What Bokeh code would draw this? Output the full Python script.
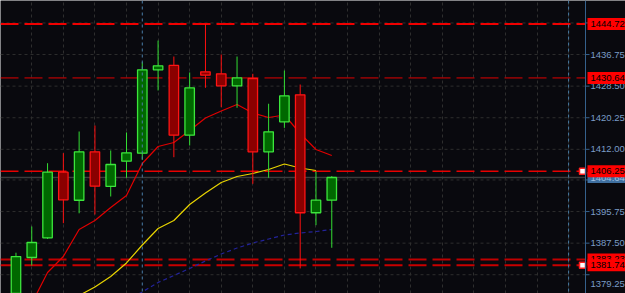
from bokeh.plotting import figure
from bokeh.models import Range1d, Span, FixedTicker, ColumnDataSource
from bokeh.core.properties import value
from bokeh.embed import file_html
from bokeh.resources import INLINE

# ---------------- data ----------------
opens  = [1371.50, 1383.75, 1388.90, 1406.03, 1398.70, 1411.35, 1402.30, 1408.90, 1410.99, 1432.76,
          1433.90, 1415.69, 1432.24, 1431.72, 1428.58, 1430.49, 1411.35, 1419.18, 1426.23, 1395.43, 1398.72]
highs  = [1385.00, 1391.85, 1408.37, 1411.00, 1416.65, 1418.22, 1411.70, 1416.40, 1434.75, 1440.40,
          1436.23, 1432.06, 1444.72, 1436.76, 1436.23, 1431.72, 1423.90, 1432.58, 1428.92, 1406.25, 1405.00]
lows   = [1369.00, 1381.66, 1388.60, 1392.70, 1395.30, 1394.98, 1399.68, 1404.56, 1409.27, 1427.36,
          1409.94, 1413.00, 1428.06, 1423.00, 1422.84, 1403.00, 1404.56, 1417.60, 1380.90, 1392.19, 1386.29]
closes = [1384.00, 1387.67, 1406.03, 1398.82, 1411.35, 1402.37, 1408.04, 1411.09, 1432.76, 1433.80,
          1415.69, 1428.06, 1431.35, 1428.58, 1430.67, 1411.35, 1416.57, 1425.97, 1395.43, 1398.72, 1404.64]
bars = list(range(len(opens)))

red_ma_x = list(range(1, 21))
red_ma = [1371.74, 1379.84, 1384.02, 1391.06, 1393.41, 1396.81, 1399.94, 1408.30, 1412.74, 1413.78,
          1416.91, 1420.18, 1422.00, 1423.70, 1421.48, 1420.31, 1420.96, 1416.13, 1411.95, 1410.39]

yellow_ma_x = list(range(3, 20))
yellow_ma = [1371.70, 1373.83, 1376.05, 1378.79, 1382.32, 1387.02, 1391.33, 1393.41, 1397.59, 1400.59,
             1403.34, 1404.90, 1405.69, 1406.73, 1408.17, 1407.12, 1406.47]

blue_ma_x = list(range(7, 21))
blue_ma = [1372.53, 1374.75, 1377.23, 1379.05, 1380.88, 1382.84, 1384.67, 1386.23, 1387.54, 1388.58,
           1389.63, 1390.15, 1390.54, 1391.06]

level_values = [1444.72, 1430.64, 1406.25, 1383.23, 1381.74]
level_labels = ["1444.72", "1430.64", "1406.25", "1383.23", "1381.74"]
marked_levels = [1406.25, 1381.74]

grid_levels = [1379.25, 1387.50, 1395.75, 1404.00, 1412.00, 1420.25, 1428.50, 1436.75, 1445.00]
tick_label_values = [1379.25, 1387.50, 1395.75, 1412.00, 1420.25, 1428.50, 1436.75]
tick_label_texts = ["1379.25", "1387.50", "1395.75", "1412.00", "1420.25", "1428.50", "1436.75"]

separator_bars = [8, 35]
current_price = closes[-1]

# ---------------- styles / geometry ----------------
BG = "#09090e"
GRID = "#2e2e2e"
AXIS = "#35618c"
TICK_TXT = "#7a9cc6"
PX_PER_BAR = 15.79
X0 = -0.98
AXIS_X = X0 + 585 / PX_PER_BAR
X1 = X0 + 625 / PX_PER_BAR
Y0, Y1 = 1374.35, 1450.86

level_widths = [2, 1, 1.5, 2, 2]
level_colors = ["#f00000", "#e00000", "#e80000", "#c00000", "#c80000"]
tick_label_yoff = [9, 0, 0, 0, 0, 0, 0]

p = figure(width=625, height=293, output_backend="svg", toolbar_location=None,
           x_axis_location=None, y_axis_location=None, min_border=0,
           x_range=Range1d(X0, X1), y_range=Range1d(Y0, Y1),
           background_fill_color=BG, border_fill_color=BG, outline_line_color=None)

# vertical grid
p.xgrid.ticker = FixedTicker(ticks=list(range(1, 36, 2)))
p.xgrid.grid_line_color = GRID
p.xgrid.grid_line_dash = "3 3"
p.ygrid.visible = False

# horizontal grid up to the price axis
p.segment(x0=[X0] * len(grid_levels), y0=grid_levels, x1=[AXIS_X] * len(grid_levels), y1=grid_levels,
          line_color=GRID, line_dash="3 3", line_width=1)

# period separators
for s in separator_bars:
    p.add_layout(Span(location=s, dimension="height", line_color="#4a7ea8", line_dash="3 3", line_width=1))

# current price line
p.segment(x0=[X0], y0=[current_price], x1=[AXIS_X], y1=[current_price], line_color="#3c3c3c", line_width=1.5)

# level lines
for v, w, c in zip(level_values, level_widths, level_colors):
    p.segment(x0=[X0], y0=[v], x1=[AXIS_X], y1=[v], line_color=c, line_width=w, line_dash="18 6")

# moving averages
p.line(blue_ma_x, blue_ma, line_color="#23239a", line_width=1.2, line_dash="4 3")
p.line(yellow_ma_x, yellow_ma, line_color="#e8d400", line_width=1.2)
p.line(red_ma_x, red_ma, line_color="#e00000", line_width=1.2)

# candles
up = [c >= o for o, c in zip(opens, closes)]
wick_col = ["#33dd33" if u else "#ff1010" for u in up]
fill_col = ["#006800" if u else "#8b0000" for u in up]
edge_col = ["#3ce63c" if u else "#ff1414" for u in up]
src = ColumnDataSource(dict(x=bars, o=opens, h=highs, l=lows, c=closes,
                            top=[max(o, c) for o, c in zip(opens, closes)],
                            bot=[min(o, c) for o, c in zip(opens, closes)],
                            wc=wick_col, fc=fill_col, ec=edge_col))
p.segment(x0="x", y0="l", x1="x", y1="h", line_color="wc", line_width=1, source=src)
p.vbar(x="x", width=0.6, top="top", bottom="bot", fill_color="fc", line_color="ec", line_width=1.3, source=src)

# price axis
p.add_layout(Span(location=AXIS_X, dimension="height", line_color=AXIS, line_width=1))
p.ray(x=[AXIS_X] * len(grid_levels), y=grid_levels, length=4, length_units="screen", angle=0,
      line_color=AXIS, line_width=1)
p.text(x=[AXIS_X] * len(tick_label_values), y=tick_label_values, text=tick_label_texts,
       y_offset=tick_label_yoff, x_offset=5, text_baseline="middle", text_align="left",
       text_font=value("Liberation Sans"), text_font_size="9.5px", text_color=TICK_TXT)

box_x = AXIS_X + 21 / PX_PER_BAR
# current price box
p.rect(x=[box_x], y=[current_price], width=38, height=11, width_units="screen", height_units="screen",
       fill_color="#3f6f9f", line_color=None)
p.text(x=[AXIS_X], y=[current_price], text=["%.2f" % current_price], x_offset=5, text_baseline="middle",
       text_font=value("Liberation Sans"), text_font_size="9.5px", text_color="#9fc0e0")

# level boxes (drawn in order so later ones overlap earlier)
for v, t in zip(level_values, level_labels):
    p.rect(x=[box_x], y=[v], width=38, height=12, width_units="screen", height_units="screen",
           fill_color="#ff0000", line_color=None)
    p.text(x=[AXIS_X], y=[v], text=[t], x_offset=5, text_baseline="middle",
           text_font=value("Liberation Sans"), text_font_size="9.5px", text_color="#000000")

# level markers
p.scatter(x=[AXIS_X - 3 / PX_PER_BAR] * len(marked_levels), y=marked_levels, marker="square", size=6,
          fill_color="white", line_color="#ff2020", line_width=1.5)

open("out.html", "w").write(file_html(p, INLINE))
